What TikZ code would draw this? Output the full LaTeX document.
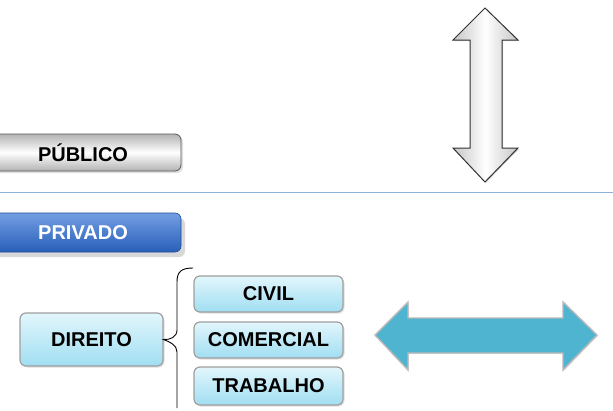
\documentclass[tikz,border=0pt]{standalone}
\usepackage{fontspec}
\setmainfont{Liberation Sans}
\usetikzlibrary{shadows,decorations.pathreplacing}
\definecolor{sepline}{RGB}{140,178,218}
\definecolor{arrowblue}{RGB}{78,180,208}
\definecolor{boxtop}{RGB}{226,246,252}
\definecolor{boxbot}{RGB}{160,222,242}
\definecolor{privtop}{RGB}{115,158,226}
\definecolor{privbot}{RGB}{40,95,185}
\tikzset{
  lbl/.style={font=\fontsize{20}{23}\selectfont\bfseries},
  graybtn/.style={lbl, rounded corners=6pt, draw=gray!70!black, line width=0.8pt,
    top color=gray!60, bottom color=gray!60, middle color=white,
    minimum width=196pt, minimum height=37pt, text=black,
    drop shadow={shadow xshift=2pt, shadow yshift=-2pt, opacity=0.25}},
  bluebtn/.style={lbl, rounded corners=6pt, draw=privbot!80!black, line width=0.6pt,
    top color=privtop, bottom color=privbot, text=white,
    minimum width=196pt, minimum height=39pt,
    drop shadow={shadow xshift=4pt, shadow yshift=-5pt, opacity=0.3}},
  cyanbox/.style={lbl, rounded corners=6pt, draw=gray!75, line width=1.2pt,
    top color=boxtop, bottom color=boxbot, text=black,
    drop shadow={shadow xshift=1.5pt, shadow yshift=-1.5pt, opacity=0.25}},
  bracestyle/.style={black, line width=0.9pt},
}
\begin{document}
\begin{tikzpicture}[x=1pt,y=-1pt]
\useasboundingbox (0,0) rectangle (613,410);
\fill[white] (0,0) rectangle (613,410);

% vertical double arrow
\path[draw=gray!40!black, line width=1pt, left color=gray!45, right color=gray!45, middle color=white,
  drop shadow={shadow xshift=1pt, shadow yshift=-1pt, opacity=0.3}]
  (485,8) -- (518,40) -- (502,40) -- (502,148) -- (518,148) -- (485,182)
  -- (453,148) -- (470,148) -- (470,40) -- (453,40) -- cycle;

% separator
\draw[sepline, line width=1pt] (0,192) -- (613,192);

% buttons
\node[graybtn] (publico) at (83,152.5) {PÚBLICO};
\node[bluebtn] (privado) at (83,232.5) {PRIVADO};

% boxes
\node[cyanbox, minimum width=143pt, minimum height=53pt] (direito) at (91.5,339.5) {DIREITO};
\node[cyanbox, minimum width=149pt, minimum height=36pt] (civil) at (268.5,294) {CIVIL};
\node[cyanbox, minimum width=149pt, minimum height=36pt] (comercial) at (268.5,340) {COMERCIAL};
\node[cyanbox, minimum width=149pt, minimum height=38pt] (trabalho) at (268.5,386) {TRABALHO};

% brace
\coordinate (bt) at (193,268);
\coordinate (bb) at (177,408);
\draw[bracestyle] (bt) .. controls (181,268) and (177,272) .. (177,282) -- (177,330)
  .. controls (177,337) and (170,340) .. (direito.east)
  .. controls (170,342) and (177,345) .. (177,352) -- (bb);

% horizontal double arrow
\path[fill=arrowblue, draw=gray!55, line width=1.4pt,
  drop shadow={shadow xshift=1pt, shadow yshift=-1pt, opacity=0.2}]
  (375,335) -- (408,302) -- (408,318) -- (563,318) -- (563,302) -- (597,335)
  -- (563,370) -- (563,353) -- (408,353) -- (408,370) -- cycle;
\end{tikzpicture}
\end{document}
